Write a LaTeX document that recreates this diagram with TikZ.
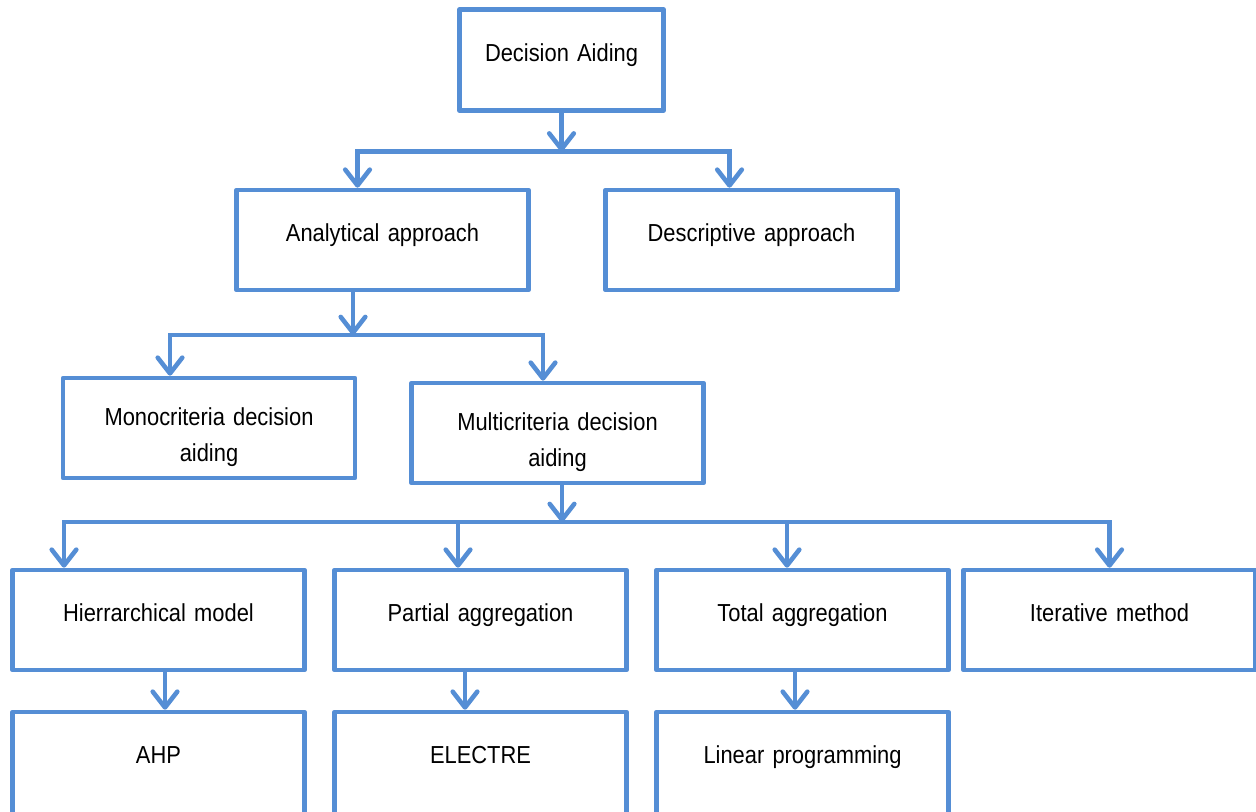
\documentclass[tikz,border=0pt]{standalone}
\usepackage{fontspec}
\setmainfont{Liberation Sans}[FakeStretch=0.89, WordSpace=0.8]
\usepackage{tikz}
\usetikzlibrary{arrows.meta, calc}
\definecolor{aidblue}{RGB}{85,142,213}

\begin{document}
\begin{tikzpicture}[
    x=0.02cm, y=-0.02cm,
    box/.style={draw=aidblue, line width=2.6pt, line join=round, fill=white,
                minimum width=5.84cm, minimum height=2cm, inner sep=2pt,
                text width=5.5cm, align=center, text height=10pt, text depth=8pt,
                font=\fontsize{14}{20.4}\selectfont},
    twoline/.style={box, text height=21pt, text depth=23.4pt},
    leaf/.style={box, minimum height=2.2cm, text depth=13.6pt},
    link/.style={draw=aidblue, line width=2.6pt},
    arr/.style={link, -{Straight Barb[length=9pt, width=14pt, line cap=round, line join=round]}}
]
\useasboundingbox (0,0) rectangle (1256,811);

\node[box, minimum width=4.08cm, minimum height=2.02cm, text width=3.8cm] (aid) at (561.5,60) {Decision Aiding};
\node[box] (ana)  at (382.5,240) {Analytical approach};
\node[box] (desc) at (751.5,240) {Descriptive approach};
\node[twoline] (mono)  at (209,428)   {Monocriteria decision\\aiding};
\node[twoline] (multi) at (557.5,433) {Multicriteria decision\\aiding};
\node[box] (hier)  at (158.5,620)  {Hierrarchical model};
\node[box] (part)  at (480.5,620)  {Partial aggregation};
\node[box] (total) at (802.5,620)  {Total aggregation};
\node[box] (iter)  at (1109.5,620) {Iterative method};
\node[leaf] (ahp)  at (158.5,767) {AHP};
\node[leaf] (elec) at (480.5,767) {ELECTRE};
\node[leaf] (lin)  at (802.5,767) {Linear programming};

% bars of the tree
\coordinate (b1m) at (561.5,151.5);
\coordinate (b1l) at (357.5,151.5);
\coordinate (b1r) at (729.5,151.5);
\coordinate (b2m) at (353,335);
\coordinate (b2l) at (170,335);
\coordinate (b2r) at (543,335);
\coordinate (b3m) at (562,522);
\coordinate (b3a) at (64,522);
\coordinate (b3b) at (458,522);
\coordinate (b3c) at (787,522);
\coordinate (b3d) at (1109.5,522);

\draw[arr] (aid.south) -- (b1m);
\draw[arr] (b1m) -- (b1l) -- (b1l |- ana.north);
\draw[arr] (b1m) -- (b1r) -- (b1r |- desc.north);

\draw[arr] (b2m |- ana.south) -- (b2m);
\draw[arr] (b2m) -- (b2l) -- (b2l |- mono.north);
\draw[arr] (b2m) -- (b2r) -- (b2r |- multi.north);

\draw[arr] (b3m |- multi.south) -- (b3m);
\draw[arr] (b3m) -- (b3a) -- (b3a |- hier.north);
\draw[arr] (b3m) -- (b3d) -- (b3d |- iter.north);
\draw[arr] (b3b) -- (b3b |- part.north);
\draw[arr] (b3c) -- (b3c |- total.north);

\foreach \up/\down/\x in {hier/ahp/165, part/elec/465, total/lin/795}{
    \draw[arr] (\x,0 |- \up.south) -- (\x,0 |- \down.north);
}
\end{tikzpicture}
\end{document}
